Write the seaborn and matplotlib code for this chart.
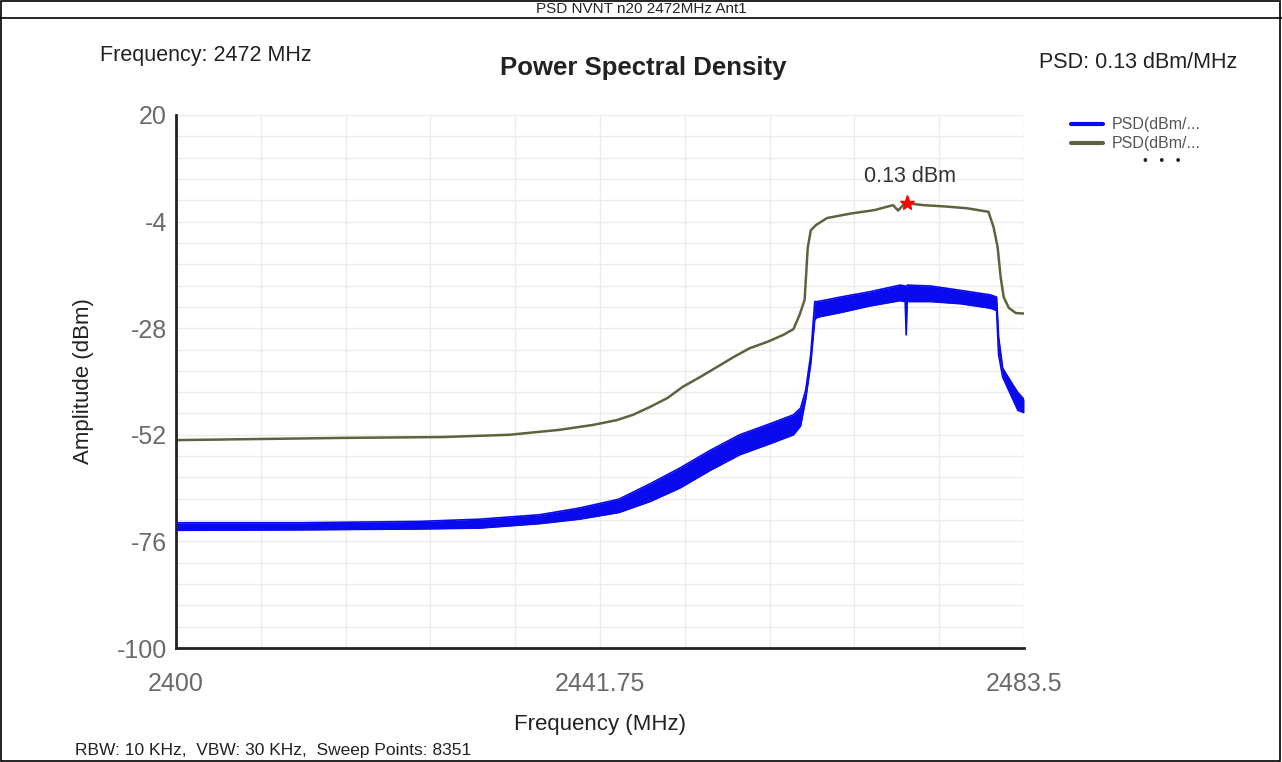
import numpy as np
import matplotlib
matplotlib.use("Agg")
import matplotlib.pyplot as plt
from matplotlib.lines import Line2D
from matplotlib.patches import Rectangle
import seaborn as sns

sns.set_style("white")
plt.rcParams['font.family'] = ['Liberation Sans', 'DejaVu Sans']
plt.rcParams['axes.unicode_minus'] = False

# Max-hold trace (olive)
freq_green = [2400.0, 2416.4, 2426.3, 2432.8, 2437.7, 2441.0, 2443.4, 2445.0, 2446.7,
              2448.4, 2449.9, 2451.6, 2453.3, 2454.9, 2456.5, 2458.2, 2459.8, 2460.8,
              2461.4, 2461.9, 2462.2, 2462.5, 2463.0, 2464.1, 2466.4, 2468.8, 2470.6,
              2471.1, 2471.6, 2472.0, 2473.6, 2475.8, 2477.9, 2480.0, 2480.5, 2480.9,
              2481.2, 2481.5, 2482.0, 2482.7, 2483.5]
psd_green = [-53.2, -52.7, -52.5, -52.0, -50.9, -49.8, -48.7, -47.5, -45.7,
             -43.7, -41.2, -39.0, -36.7, -34.5, -32.5, -31.1, -29.5, -28.2,
             -25.0, -21.6, -10.0, -6.0, -4.8, -3.2, -2.2, -1.4, -0.3,
             -1.5, -0.3, 0.13, -0.3, -0.6, -1.0, -1.8, -5.2, -9.7,
             -16.5, -21.0, -23.4, -24.6, -24.7]

# Noisy trace (blue) as a lower / upper envelope
freq_blue = [2400.0, 2412.2, 2424.0, 2429.9, 2435.8, 2439.7, 2443.6, 2446.7, 2449.6,
             2452.6, 2455.5, 2458.5, 2460.8, 2461.5, 2462.0, 2462.5, 2462.9, 2463.2,
             2465.4, 2468.3, 2471.3, 2471.8, 2471.9, 2472.0, 2474.3, 2477.3, 2480.2,
             2480.8, 2481.0, 2481.4, 2482.2, 2482.9, 2483.5]
blue_low = [-73.5, -73.4, -73.2, -73.0, -72.0, -71.0, -69.5, -67.0, -64.0,
            -60.0, -56.5, -54.0, -52.0, -50.0, -44.0, -36.0, -26.0, -25.5,
            -24.5, -23.0, -21.8, -22.0, -29.5, -22.0, -22.0, -22.5, -23.5,
            -24.0, -34.0, -39.0, -43.0, -46.5, -47.0]
blue_high = [-71.8, -71.8, -71.5, -71.0, -70.0, -68.5, -66.5, -63.0, -59.5,
             -55.5, -52.0, -49.5, -47.5, -46.0, -42.0, -34.0, -22.0, -22.0,
             -21.0, -19.8, -18.3, -18.5, -19.0, -18.3, -18.5, -19.5, -20.5,
             -21.0, -30.0, -37.0, -40.0, -42.5, -44.0]

peak_freq = 2472.0
peak_psd = 0.13
y_ticks = [20, -4, -28, -52, -76, -100]
x_ticks = [2400, 2441.75, 2483.5]
x_ticklabels = ["2400", "2441.75", "2483.5"]

W, H = 1282, 762
fig = plt.figure(figsize=(W / 100, H / 100), dpi=100)
ax = fig.add_axes([176 / W, 1 - 648 / H, (1024 - 176) / W, (648 - 115) / H])

blue = "#0a0aee"
olive = "#60623f"

ax.fill_between(freq_blue, blue_low, blue_high, color=blue, lw=0)
sns.lineplot(x=freq_blue, y=blue_low, ax=ax, color=blue, lw=1.2, sort=False)
sns.lineplot(x=freq_blue, y=blue_high, ax=ax, color=blue, lw=1.2, sort=False)
sns.lineplot(x=freq_green, y=psd_green, ax=ax, color=olive, lw=1.8, sort=False)

ax.plot(peak_freq, peak_psd, marker="*", color="red", ms=11, zorder=5)
ax.text(peak_freq + 0.3, peak_psd + 3.6, f"{peak_psd} dBm", ha="center", va="bottom",
        fontsize=15.5, color="#333333")

ax.set_xlim(2400, 2483.5)
ax.set_ylim(-100, 20)
ax.set_yticks(y_ticks)
ax.set_xticks(x_ticks)
ax.set_xticklabels(x_ticklabels)
ax.set_yticks(np.arange(-100, 20.01, 4.8), minor=True)
ax.set_xticks(np.linspace(2400, 2483.5, 11), minor=True)
ax.grid(True, which="both", color="#ececec", lw=1)
ax.set_axisbelow(True)

for side in ["top", "right"]:
    ax.spines[side].set_visible(False)
for side in ["left", "bottom"]:
    ax.spines[side].set_color("#222222")
    ax.spines[side].set_linewidth(2)

ax.tick_params(axis="both", which="major", labelsize=18, labelcolor="#6a6a6a",
               length=3, color="#222222")
ax.tick_params(axis="x", pad=14)
ax.tick_params(axis="both", which="minor", length=0)

ax.set_xlabel("Frequency (MHz)", fontsize=16, color="#222222", labelpad=13)
ax.set_ylabel("Amplitude (dBm)", fontsize=16, color="#222222", labelpad=16)

# header and outer frame
fig.add_artist(Rectangle((1 / W, 1 / H), (W - 3) / W, (H - 2) / H, transform=fig.transFigure,
                         fill=False, edgecolor="black", lw=1.2))
fig.add_artist(Line2D([0, 1], [1 - 18 / H, 1 - 18 / H], transform=fig.transFigure,
                      color="black", lw=1.2))
fig.text(0.5, 1 - 9 / H, "PSD NVNT n20 2472MHz Ant1", ha="center", va="center", fontsize=11)

fig.text(100 / W, 1 - 55 / H, "Frequency: 2472 MHz", ha="left", va="center",
         fontsize=15.5, color="#222222")
fig.text(643 / W, 1 - 68 / H, "Power Spectral Density", ha="center", va="center",
         fontsize=18.5, fontweight="bold", color="#222222")
fig.text(1237 / W, 1 - 62 / H, "PSD: 0.13 dBm/MHz", ha="right", va="center",
         fontsize=15.5, color="#222222")
fig.text(75 / W, 1 - 750 / H, "RBW: 10 KHz,  VBW: 30 KHz,  Sweep Points: 8351", ha="left",
         va="center", fontsize=12.5, color="#222222")

handles = [Line2D([], [], color=blue, lw=3), Line2D([], [], color=olive, lw=3)]
fig.legend(handles, ["PSD(dBm/...", "PSD(dBm/..."], loc="upper left",
           bbox_to_anchor=(1057 / W, 1 - 103 / H), frameon=False, fontsize=11.5,
           handlelength=2.0, handletextpad=0.5, labelspacing=0.25, labelcolor="#555555")
fig.text(1162 / W, 1 - 161 / H, "\u2022   \u2022   \u2022", ha="center", va="center",
         fontsize=10, color="#222222")

fig.savefig("out.png", dpi=100)
